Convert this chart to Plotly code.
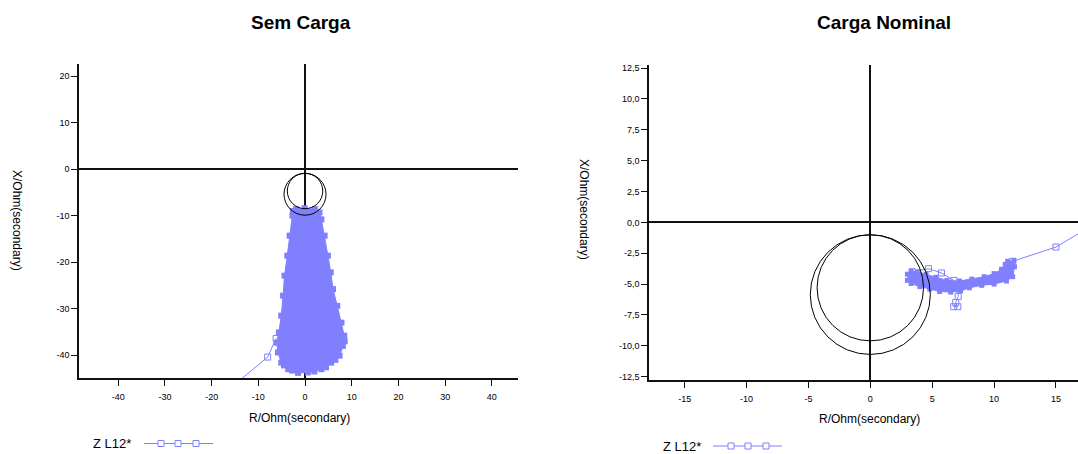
import plotly.graph_objects as go

W, H = 1078, 454
BLUE = "#8080ff"
FONT = "Liberation Sans"

# ---------------- data ----------------
# "Sem Carga": outline of the dense impedance cloud, R and X in ohm (secondary)
SEM_CLOUD_R = [-1.9, -0.1, 2.1, 3.1, 3.5, 4.2, 4.9, 5.5, 6.0, 6.9, 7.8, 8.4, 8.5, 8.1,
               7.4, 6.5, 5.6, 4.5, 3.5, 2.0, 0.6, -1.5, -2.8, -3.6, -4.5, -5.1, -5.8,
               -6.1, -5.6, -5.1, -4.7, -4.4, -3.8, -3.3, -2.7, -2.6]
SEM_CLOUD_X = [-8.6, -8.4, -8.6, -9.3, -10.8, -14.3, -18.6, -22.2, -25.8, -29.4, -33.0,
               -35.8, -37.0, -38.0, -40.1, -41.0, -41.6, -42.6, -43.0, -43.5, -43.7,
               -43.8, -43.3, -43.0, -42.2, -41.6, -39.4, -37.3, -35.1, -31.5, -27.2,
               -22.9, -18.6, -14.3, -10.0, -9.0]
# trajectory leaving the cloud
SEM_TAIL_R = [-6.2, -8.0, -16.5]
SEM_TAIL_X = [-36.4, -40.4, -47.5]

# "Carga Nominal": outline of the impedance band
NOM_BAND_R = [3.0, 3.3, 3.8, 4.5, 5.3, 6.2, 7.2, 8.2, 9.2, 10.0, 10.6, 10.9, 11.1, 11.6,
              11.65, 11.5, 11.0, 10.0, 9.0, 8.0, 7.3, 6.5, 5.6, 4.8, 4.0, 3.3, 3.0]
NOM_BAND_X = [-4.2, -3.95, -4.0, -4.2, -4.45, -4.7, -4.75, -4.6, -4.4, -4.15, -3.8, -3.4,
              -3.15, -3.1, -3.6, -4.4, -4.75, -5.0, -5.1, -5.3, -5.55, -5.65, -5.6,
              -5.4, -5.2, -4.95, -4.7]
# individual samples around the band
NOM_UPPER_R = [3.4, 4.7, 5.75, 6.75, 7.1]
NOM_UPPER_X = [-4.0, -3.75, -4.1, -4.7, -5.2]
NOM_STEM_R = [7.1, 7.1, 6.9, 6.74, 7.07]
NOM_STEM_X = [-5.4, -6.0, -6.5, -6.83, -6.83]
NOM_TAIL_R = [11.5, 15.0, 18.0]
NOM_TAIL_X = [-3.15, -2.0, -0.2]

# mho characteristic circles: centre (R, X) and radius
SEM_MHO_CX = [0.0, 0.0]
SEM_MHO_CY = [-5.4, -4.7]
SEM_MHO_RAD = [4.5, 3.8]
NOM_MHO_CX = [0.0, 0.0]
NOM_MHO_CY = [-5.85, -5.3]
NOM_MHO_RAD = [4.85, 4.3]

# tick marks
SEM_XTICKS = [-40, -30, -20, -10, 0, 10, 20, 30, 40]
SEM_YTICKS = [-40, -30, -20, -10, 0, 10, 20]
NOM_XTICKS = [-15, -10, -5, 0, 5, 10, 15]
NOM_YTICKS = [-12.5, -10.0, -7.5, -5.0, -2.5, 0.0, 2.5, 5.0, 7.5, 10.0, 12.5]
NOM_YTICKTEXT = ["-12,5", "-10,0", "-7,5", "-5,0", "-2,5", "0,0", "2,5", "5,0",
                 "7,5", "10,0", "12,5"]

SERIES_NAME = "Z L12*"
TITLES = ["Sem Carga", "Carga Nominal"]
X_TITLE = "R/Ohm(secondary)"
Y_TITLE = "X/Ohm(secondary)"


def px_x(px):
    return px / W


def px_y(py):
    return 1 - py / H


fig = go.Figure()

# ---- left panel ----
fig.add_trace(go.Scatter(
    x=SEM_CLOUD_R, y=SEM_CLOUD_X, mode="lines+markers", fill="toself",
    fillcolor=BLUE, line=dict(color=BLUE, width=1),
    marker=dict(symbol="square", size=6, color=BLUE),
    xaxis="x", yaxis="y", showlegend=False, hoverinfo="skip"))
fig.add_trace(go.Scatter(
    x=SEM_TAIL_R, y=SEM_TAIL_X, mode="lines+markers",
    line=dict(color=BLUE, width=1),
    marker=dict(symbol="square-open", size=6, color=BLUE, line=dict(width=1)),
    xaxis="x", yaxis="y", showlegend=False, hoverinfo="skip"))

# ---- right panel ----
fig.add_trace(go.Scatter(
    x=NOM_BAND_R, y=NOM_BAND_X, mode="lines+markers", fill="toself",
    fillcolor=BLUE, line=dict(color=BLUE, width=1),
    marker=dict(symbol="square", size=5, color=BLUE),
    xaxis="x2", yaxis="y2", showlegend=False, hoverinfo="skip"))
for rr, xx in ((NOM_UPPER_R, NOM_UPPER_X), (NOM_STEM_R, NOM_STEM_X),
               (NOM_TAIL_R, NOM_TAIL_X)):
    fig.add_trace(go.Scatter(
        x=rr, y=xx, mode="lines+markers",
        line=dict(color=BLUE, width=1),
        marker=dict(symbol="square-open", size=6, color=BLUE, line=dict(width=1)),
        xaxis="x2", yaxis="y2", showlegend=False, hoverinfo="skip"))

shapes = []
for cx, cy, r in zip(SEM_MHO_CX, SEM_MHO_CY, SEM_MHO_RAD):
    shapes.append(dict(type="circle", xref="x", yref="y", x0=cx - r, x1=cx + r,
                       y0=cy - r, y1=cy + r, line=dict(color="black", width=1),
                       layer="above"))
for cx, cy, r in zip(NOM_MHO_CX, NOM_MHO_CY, NOM_MHO_RAD):
    shapes.append(dict(type="circle", xref="x2", yref="y2", x0=cx - r, x1=cx + r,
                       y0=cy - r, y1=cy + r, line=dict(color="black", width=1),
                       layer="above"))

annotations = []


def text(s, x, y, size, bold=False, angle=0, xanchor="center"):
    annotations.append(dict(
        text=f"<b>{s}</b>" if bold else s, x=px_x(x), y=px_y(y),
        xref="paper", yref="paper", showarrow=False, textangle=angle,
        xanchor=xanchor, yanchor="middle",
        font=dict(family=FONT, size=size, color="black")))


# titles and axis captions
text(TITLES[0], 301, 23, 19, bold=True)
text(TITLES[1], 884, 22, 19, bold=True)
text(X_TITLE, 299, 418, 12)
text(X_TITLE, 869, 419, 12)
text(Y_TITLE, 17, 220, 12, angle=90)
text(Y_TITLE, 584, 209, 12, angle=90)


# series key under each panel: caption followed by a line with three squares
def key(tx, ty, lx0, lx1, sq):
    text(SERIES_NAME, tx, ty, 13, xanchor="left")
    shapes.append(dict(type="line", xref="paper", yref="paper",
                       x0=px_x(lx0), x1=px_x(lx1), y0=px_y(ty), y1=px_y(ty),
                       line=dict(color=BLUE, width=1)))
    for cxp in sq:
        shapes.append(dict(type="rect", xref="paper", yref="paper",
                           x0=px_x(cxp - 3), x1=px_x(cxp + 3),
                           y0=px_y(ty + 3), y1=px_y(ty - 3),
                           line=dict(color=BLUE, width=1), fillcolor="white"))


key(91, 443.5, 144, 213, [161, 178, 196])
key(661, 446, 713, 782, [731, 748, 766])


def axis(domain, rng, anchor, tickvals, ticktext=None, standoff=0):
    return dict(
        domain=domain, range=rng, anchor=anchor, autorange=False,
        showline=True, linecolor="#111", linewidth=1.5,
        ticks="outside", ticklen=6, tickwidth=1, tickcolor="#111",
        ticklabelstandoff=standoff,
        tickvals=tickvals, ticktext=ticktext if ticktext else [str(v) for v in tickvals],
        tickfont=dict(family=FONT, size=9, color="black"),
        showgrid=False, zeroline=True, zerolinecolor="#111", zerolinewidth=1.5,
        automargin=False, fixedrange=True)


fig.update_layout(
    width=W, height=H,
    margin=dict(l=0, r=0, t=0, b=0, pad=0),
    paper_bgcolor="white", plot_bgcolor="white",
    showlegend=False,
    xaxis=axis([px_x(79), px_x(518)], [-48.4, 45.6], "y", SEM_XTICKS, standoff=3),
    yaxis=axis([px_y(378), px_y(64)], [-44.9, 22.6], "x", SEM_YTICKS),
    xaxis2=axis([px_x(649), 1.0], [-17.88, 16.78], "y2", NOM_XTICKS, standoff=3),
    yaxis2=axis([px_y(380), px_y(65)], [-12.77, 12.75], "x2", NOM_YTICKS, NOM_YTICKTEXT),
    shapes=shapes, annotations=annotations,
)

fig.write_html("out.html", config={"displayModeBar": False})
